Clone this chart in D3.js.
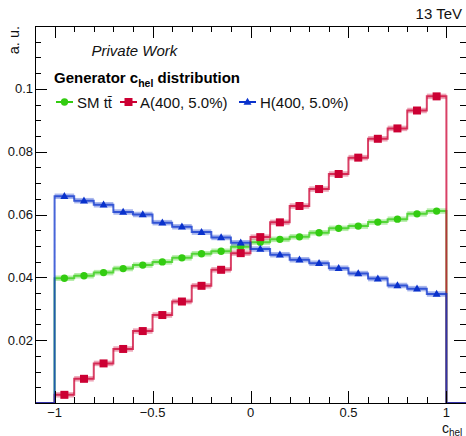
<!DOCTYPE html>
<html><head><meta charset="utf-8">
<script src="https://cdn.jsdelivr.net/npm/d3@7/dist/d3.min.js"></script>
<style>
body{margin:0;background:#fff;}
svg{display:block;font-family:"Liberation Sans",Arial,sans-serif;}
</style></head>
<body><svg id="c" width="466" height="436"></svg>
<script>
// ---- data ----
const binEdges = d3.range(0, 21).map(i => -1 + i * 0.1);
const smValues = [0.0397,0.0405,0.0415,0.0428,0.0439,0.0449,0.0462,0.0475,0.0483,0.0497,
                  0.0512,0.0521,0.0529,0.0542,0.0556,0.0563,0.0576,0.0585,0.0602,0.0611];
const aValues  = [0.0026,0.0077,0.0126,0.0172,0.0229,0.0280,0.0323,0.0373,0.0424,0.0477,
                  0.0528,0.0575,0.0627,0.0681,0.0729,0.0781,0.0841,0.0874,0.0931,0.0976];
const hValues  = [0.0658,0.0644,0.0631,0.0608,0.0600,0.0574,0.0561,0.0544,0.0527,0.0510,
                  0.0490,0.0472,0.0456,0.0445,0.0429,0.0412,0.0396,0.0374,0.0364,0.0347];
const seriesNames = ["SM t\u0074\u0304", "A(400, 5.0%)", "H(400, 5.0%)"];
const xTickValues = [-1, -0.5, 0, 0.5, 1];
const xTickLabels = ["\u22121", "\u22120.5", "0", "0.5", "1"];
const yTickValues = [0.02, 0.04, 0.06, 0.08, 0.1];
const yTickLabels = ["0.02", "0.04", "0.06", "0.08", "0.1"];

const series = [
  {name: seriesNames[0], values: smValues, color: "#33cc11", marker: "circle"},
  {name: seriesNames[1], values: aValues,  color: "#cc0033", marker: "square"},
  {name: seriesNames[2], values: hValues,  color: "#0a32cc", marker: "triangle"}
];

// ---- layout ----
const L = 35, R = 466, T = 26, B = 403;
const x = d3.scaleLinear().domain([-1.1, 1.1]).range([L, R]);
const y = d3.scaleLinear().domain([0, 0.12]).range([B, T]);
const svg = d3.select("#c");

// ---- histograms ----
const gH = svg.append("g");
function markerPath(type){
  if(type==="circle") return d3.symbol().type(d3.symbolCircle).size(42)();
  if(type==="square") return "M-4,-4H4V4H-4Z";
  return "M0,-4.2L4,2.8H-4Z";
}
series.forEach(s => {
  const g = gH.append("g");
  s.values.forEach((v, i) => {
    g.append("line")
      .attr("x1", x(binEdges[i])).attr("x2", x(binEdges[i+1]))
      .attr("y1", y(v)).attr("y2", y(v))
      .attr("stroke", s.color).attr("stroke-width", 5.5).attr("stroke-opacity", 0.35);
  });
  let d = `M${x(-1.1)},${y(0)}L${x(binEdges[0])},${y(0)}`;
  s.values.forEach((v, i) => {
    d += `L${x(binEdges[i])},${y(v)}L${x(binEdges[i+1])},${y(v)}`;
  });
  d += `L${x(1)},${y(0)}L${x(1.1)},${y(0)}`;
  g.append("path").attr("d", d).attr("fill", "none")
    .attr("stroke", s.color).attr("stroke-width", 2).attr("stroke-opacity", 0.75);
  s.values.forEach((v, i) => {
    g.append("path").attr("d", markerPath(s.marker))
      .attr("transform", `translate(${x((binEdges[i]+binEdges[i+1])/2)},${y(v)})`)
      .attr("fill", s.color);
  });
});

// ---- frame & ticks ----
const gA = svg.append("g").attr("stroke", "#000").attr("stroke-width", 1)
  .attr("shape-rendering", "crispEdges");
gA.append("rect").attr("x", L + 0.5).attr("y", T + 0.5).attr("width", R - L).attr("height", B - T).attr("fill", "none");
const xMinor = d3.range(-10, 11).map(i => i / 10);
xMinor.forEach(v => {
  const major = Math.abs(v * 2 - Math.round(v * 2)) < 1e-9;
  const len = major ? 12 : 6;
  const px = Math.round(x(v)) + 0.5;
  gA.append("line").attr("x1", px).attr("x2", px).attr("y1", B).attr("y2", B - len);
  gA.append("line").attr("x1", px).attr("x2", px).attr("y1", T).attr("y2", T + len);
});
const yMinor = d3.range(1, 24).map(i => i * 0.005);
yMinor.forEach((v, i) => {
  const major = (i + 1) % 4 === 0;
  const len = major ? 12 : 6;
  const py = Math.round(y(v)) + 0.5;
  gA.append("line").attr("x1", L).attr("x2", L + len).attr("y1", py).attr("y2", py);
  gA.append("line").attr("x1", R).attr("x2", R - len).attr("y1", py).attr("y2", py);
});

// tick labels
const gT = svg.append("g").attr("font-size", 13).attr("fill", "#111");
xTickValues.forEach((v, i) => {
  gT.append("text").attr("x", x(v)).attr("y", 416.5).attr("text-anchor", "middle").text(xTickLabels[i]);
});
yTickValues.forEach((v, i) => {
  gT.append("text").attr("x", 33).attr("y", y(v) + 4.5).attr("text-anchor", "end").text(yTickLabels[i]);
});

// axis titles
const xt = svg.append("text").attr("x", 442).attr("y", 433).attr("font-size", 14).attr("fill", "#111");
xt.append("tspan").text("c");
xt.append("tspan").attr("font-size", 10).attr("dy", 2.5).text("hel");
svg.append("text").attr("transform", "translate(18.5,26) rotate(-90)")
  .attr("text-anchor", "end").attr("font-size", 14.5).attr("fill", "#111").text("a. u.");
svg.append("text").attr("x", 462).attr("y", 19).attr("text-anchor", "end")
  .attr("font-size", 15).attr("fill", "#111").text("13 TeV");
svg.append("text").attr("x", 91.5).attr("y", 56).attr("font-size", 15)
  .attr("font-style", "italic").attr("fill", "#111").text("Private Work");
const gt = svg.append("text").attr("x", 54).attr("y", 83).attr("font-size", 15)
  .attr("font-weight", "bold").attr("fill", "#000");
gt.append("tspan").text("Generator c");
gt.append("tspan").attr("font-size", 10.5).attr("dy", 3.5).text("hel");
gt.append("tspan").attr("dy", -3.5).text(" distribution");

// legend
const legX = [56, 120, 239];
const legTextX = [77, 140, 260];
const legY = 102;
series.forEach((s, i) => {
  svg.append("line").attr("x1", legX[i]).attr("x2", legX[i] + 17).attr("y1", legY).attr("y2", legY)
    .attr("stroke", s.color).attr("stroke-width", 2);
  svg.append("path").attr("d", markerPath(s.marker))
    .attr("transform", `translate(${legX[i] + 8.5},${legY})`).attr("fill", s.color);
  svg.append("text").attr("x", legTextX[i]).attr("y", legY + 5.5).attr("font-size", 15)
    .attr("fill", "#111").text(s.name);
});
</script></body></html>
